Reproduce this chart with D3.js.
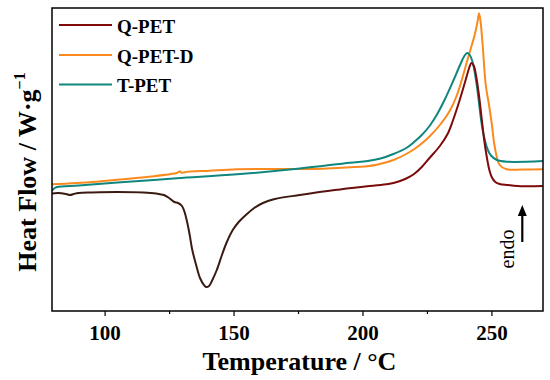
<!DOCTYPE html>
<html>
<head>
<meta charset="utf-8">
<script src="https://cdn.jsdelivr.net/npm/d3@7"></script>
<style>
  html, body { margin: 0; padding: 0; background: #fff; }
  svg { display: block; font-family: "Liberation Serif", "Times New Roman", serif; }
</style>
</head>
<body>
<svg id="chart" width="550" height="380"></svg>
<script>
// ---- Data (heat flow in arbitrary units) ----
const seriesNames = ["Q-PET", "Q-PET-D", "T-PET"];

const qpetT  = [79.6, 82, 85, 86.6, 88, 90, 95, 105, 115, 120, 123, 125, 127, 128.5, 130, 131, 132, 133, 134, 135.5, 137, 138.5, 139.3, 140.5, 141.6, 143.5, 145.5, 147.4, 149.7, 152, 155.2, 158, 161.4, 166, 175.7, 189.3, 202.8, 210, 214, 217, 220, 223, 226, 230, 233, 235, 237.7, 240, 241.5, 242.2, 243.2, 244, 245, 246.2, 247.2, 248.2, 249.2, 250.1, 251.5, 253.2, 256.3, 260, 270];
const qpetHF = [1.175, 1.18, 1.17, 1.16, 1.17, 1.18, 1.185, 1.19, 1.185, 1.175, 1.16, 1.13, 1.09, 1.08, 1.05, 0.99, 0.89, 0.76, 0.61, 0.46, 0.33, 0.26, 0.24, 0.25, 0.30, 0.41, 0.56, 0.69, 0.81, 0.89, 0.97, 1.03, 1.08, 1.12, 1.16, 1.21, 1.25, 1.27, 1.295, 1.325, 1.37, 1.44, 1.53, 1.65, 1.77, 1.90, 2.11, 2.31, 2.44, 2.48, 2.45, 2.36, 2.19, 1.93, 1.71, 1.54, 1.41, 1.34, 1.29, 1.27, 1.26, 1.25, 1.25];

const qpetdT  = [79.6, 95.5, 106, 118, 128, 128.6, 129.2, 129.8, 131, 140.8, 151.3, 165, 179.6, 195, 201, 206, 212, 218, 222, 226, 230, 233.8, 236.5, 238.5, 240.8, 243.5, 244.6, 245.2, 245.8, 246.6, 247.8, 249, 250.1, 251.3, 253.2, 255.9, 262, 270];
const qpetdHF = [1.267, 1.29, 1.315, 1.345, 1.38, 1.387, 1.397, 1.382, 1.388, 1.403, 1.417, 1.42, 1.42, 1.437, 1.445, 1.465, 1.51, 1.585, 1.655, 1.745, 1.86, 2.00, 2.15, 2.31, 2.52, 2.76, 2.89, 2.977, 2.89, 2.66, 2.26, 2.07, 1.88, 1.64, 1.46, 1.417, 1.415, 1.417];

const tpetT  = [79.6, 80.4, 81.6, 90, 105, 128, 151.3, 175.7, 195.1, 202, 207, 212, 217, 220, 223, 226, 229, 232, 235, 238, 239.5, 240.6, 241.6, 242.7, 244.3, 246.6, 248.6, 250, 252.1, 256, 270];
const tpetHF = [1.20, 1.225, 1.24, 1.255, 1.284, 1.327, 1.367, 1.425, 1.483, 1.50, 1.525, 1.57, 1.63, 1.69, 1.76, 1.85, 1.97, 2.12, 2.29, 2.47, 2.55, 2.58, 2.56, 2.49, 2.26, 1.81, 1.61, 1.55, 1.51, 1.493, 1.50];

const xMajorTicks = [100, 150, 200, 250];
const xMinorTicks = [125, 175, 225];

// ---- Layout ----
const svg = d3.select("#chart");
const L = 52, R = 543, T = 8, B = 311;
const fontFam = '"Liberation Serif", "Times New Roman", serif';

const x = d3.scaleLinear().domain([79.6, 270]).range([L, R]);
const y = d3.scaleLinear().domain([0, 3.03]).range([B, T]);

const colors = { "Q-PET": "#7e0a0a", "Q-PET-D": "#fb8a1e", "T-PET": "#0f877e" };

// gradient for Q-PET (dark brown at low T, dark red at high T)
const defs = svg.append("defs");
const grad = defs.append("linearGradient")
  .attr("id", "qpetGrad").attr("gradientUnits", "userSpaceOnUse")
  .attr("x1", x(170)).attr("x2", x(205)).attr("y1", 0).attr("y2", 0);
grad.append("stop").attr("offset", 0).attr("stop-color", "#3a1b12");
grad.append("stop").attr("offset", 1).attr("stop-color", "#7e0a0a");

defs.append("clipPath").attr("id", "plotClip")
  .append("rect").attr("x", L).attr("y", T).attr("width", R - L).attr("height", B - T);

const line = d3.line().x(d => x(d[0])).y(d => y(d[1])).curve(d3.curveCatmullRom.alpha(0.5));
const zip = (a, b) => a.map((v, i) => [v, b[i]]);

const g = svg.append("g").attr("clip-path", "url(#plotClip)");
g.append("path").datum(zip(qpetdT, qpetdHF)).attr("d", line)
  .attr("fill", "none").attr("stroke", colors["Q-PET-D"]).attr("stroke-width", 2);
g.append("path").datum(zip(tpetT, tpetHF)).attr("d", line)
  .attr("fill", "none").attr("stroke", colors["T-PET"]).attr("stroke-width", 2);
g.append("path").datum(zip(qpetT, qpetHF)).attr("d", line)
  .attr("fill", "none").attr("stroke", "url(#qpetGrad)").attr("stroke-width", 2);

// ---- X axis ----
const xAxis = d3.axisBottom(x).tickValues(xMajorTicks).tickSize(5).tickSizeOuter(0).tickPadding(4);
const ax = svg.append("g").attr("transform", `translate(0,${B})`).call(xAxis);
ax.select(".domain").remove();
ax.selectAll(".tick line").attr("stroke", "#000").attr("stroke-width", 1.2);
ax.selectAll(".tick text").attr("font-family", fontFam).attr("font-weight", "bold")
  .attr("font-size", 21).attr("fill", "#000").attr("dy", "0.95em");

const axMinor = d3.axisBottom(x).tickValues(xMinorTicks).tickSize(3).tickSizeOuter(0).tickFormat("");
const axm = svg.append("g").attr("transform", `translate(0,${B})`).call(axMinor);
axm.select(".domain").remove();
axm.selectAll(".tick line").attr("stroke", "#000").attr("stroke-width", 1.2);

// frame
svg.append("rect").attr("x", L).attr("y", T).attr("width", R - L).attr("height", B - T)
  .attr("fill", "none").attr("stroke", "#000").attr("stroke-width", 1.5);

// axis titles
svg.append("text").attr("x", (L + R) / 2 + 2).attr("y", 370)
  .attr("text-anchor", "middle").attr("font-family", fontFam).attr("font-weight", "bold")
  .attr("font-size", 26).attr("fill", "#000").text("Temperature / °C");

const yl = svg.append("text")
  .attr("transform", "translate(36,172) rotate(-90)")
  .attr("text-anchor", "middle").attr("font-family", fontFam).attr("font-weight", "bold")
  .attr("font-size", 26).attr("fill", "#000");
yl.append("tspan").text("Heat Flow / W·g");
yl.append("tspan").attr("font-size", 16).attr("dy", -11).text("−1");

// legend
const legendY = [25, 55, 84.5];
seriesNames.forEach((name, i) => {
  svg.append("line").attr("x1", 59).attr("x2", 112).attr("y1", legendY[i]).attr("y2", legendY[i])
    .attr("stroke", colors[name]).attr("stroke-width", 2.2);
  svg.append("text").attr("x", 117).attr("y", legendY[i] + 7.5)
    .attr("font-family", fontFam).attr("font-weight", "bold").attr("font-size", 19)
    .attr("fill", "#000").text(name);
});

// endo arrow
svg.append("text").attr("transform", "translate(514,249) rotate(-90)")
  .attr("text-anchor", "middle").attr("font-family", fontFam).attr("font-size", 20)
  .attr("fill", "#000").text("endo");
svg.append("line").attr("x1", 522.3).attr("x2", 522.3).attr("y1", 242).attr("y2", 214)
  .attr("stroke", "#000").attr("stroke-width", 2.2);
svg.append("path").attr("d", "M522.3,205 L517.8,216 L526.8,216 Z").attr("fill", "#000");
</script>
</body>
</html>
